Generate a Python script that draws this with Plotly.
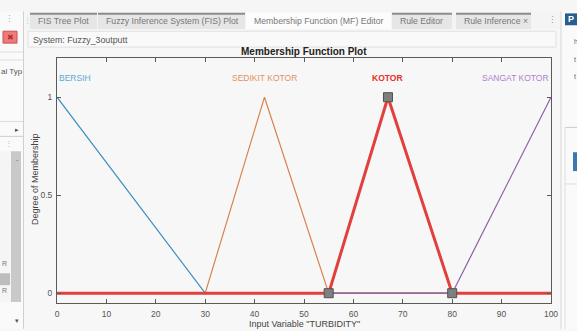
import plotly.graph_objects as go

# ---------------- data ----------------
x_ticks = [0, 10, 20, 30, 40, 50, 60, 70, 80, 90, 100]
y_ticks = [0, 0.5, 1]
y_tick_text = ["0", "0.5", "1"]

mf_names = ["BERSIH", "SEDIKIT KOTOR", "KOTOR", "SANGAT KOTOR"]
bersih_x = [0, 30, 100]
bersih_y = [1, 0, 0]
sedikit_x = [0, 30, 42, 55, 100]
sedikit_y = [0, 0, 1, 0, 0]
kotor_x = [0, 55, 67, 80, 100]
kotor_y = [0, 0, 1, 0, 0]
sangat_x = [0, 80, 100]
sangat_y = [0, 0, 1]
kotor_vertex_x = [55, 67, 80]
kotor_vertex_y = [0, 1, 0]
label_x = [0, 42, 67, 100]
label_anchor = ["left", "center", "center", "right"]

tab_names = ["FIS Tree Plot", "Fuzzy Inference System (FIS) Plot",
             "Membership Function (MF) Editor", "Rule Editor", "Rule Inference \u00d7"]

# ---------------- layout geometry ----------------
W, H = 577, 331
L, R, T, B = 57, 551, 58, 305


def xp(px):
    return (px - L) / (R - L)


def yp(py):
    return (B - py) / (B - T)


FONT = "Liberation Sans, Arial, sans-serif"

line_colors = ["#3f8fc2", "#d9834c", "#e2403c", "#8e5ea6"]
label_colors = ["#5aa9d8", "#e0925e", "#e2302c", "#b07fcb"]

fig = go.Figure()

series = [(bersih_x, bersih_y, 0), (sedikit_x, sedikit_y, 1),
          (sangat_x, sangat_y, 3), (kotor_x, kotor_y, 2)]
for xs, ys, i in series:
    fig.add_trace(go.Scatter(
        x=xs, y=ys, mode="lines", name=mf_names[i],
        line=dict(color=line_colors[i], width=3 if i == 2 else 1.2),
        hoverinfo="skip", showlegend=False))

fig.add_trace(go.Scatter(
    x=kotor_vertex_x, y=kotor_vertex_y, mode="markers",
    marker=dict(symbol="square", size=9, color="#7f7f7f",
                line=dict(color="#505050", width=1)),
    showlegend=False, hoverinfo="skip"))

annotations = []
for i, name in enumerate(mf_names):
    annotations.append(dict(
        x=label_x[i], y=1.1, xref="x", yref="y", text=("<b>%s</b>" % name) if i == 2 else name,
        showarrow=False, xanchor=label_anchor[i], yanchor="middle",
        font=dict(family=FONT, size=8.5, color=label_colors[i])))

annotations.append(dict(x=0.5, y=yp(51), xref="paper", yref="paper",
                        text="<b>Membership Function Plot</b>", showarrow=False,
                        xanchor="center", yanchor="middle",
                        font=dict(family=FONT, size=10, color="#222222")))
annotations.append(dict(x=0.5, y=yp(326), xref="paper", yref="paper",
                        text='Input Variable "TURBIDITY"', showarrow=False,
                        xanchor="center", yanchor="middle",
                        font=dict(family=FONT, size=9, color="#444444")))
annotations.append(dict(x=xp(35), y=yp(180), xref="paper", yref="paper",
                        text="Degree of Membership", showarrow=False, textangle=-90,
                        xanchor="center", yanchor="middle",
                        font=dict(family=FONT, size=9, color="#444444")))

shapes = []


def rect(x0, y0, x1, y1, fill, line=None, lw=0, layer="below"):
    shapes.append(dict(type="rect", xref="paper", yref="paper",
                       x0=xp(x0), x1=xp(x1), y0=yp(y1), y1=yp(y0),
                       fillcolor=fill, line=dict(color=line or fill, width=lw), layer=layer))


def hline(x0, x1, y, color, lw=1):
    shapes.append(dict(type="line", xref="paper", yref="paper",
                       x0=xp(x0), x1=xp(x1), y0=yp(y), y1=yp(y),
                       line=dict(color=color, width=lw), layer="below"))


def vline(x, y0, y1, color, lw=1):
    shapes.append(dict(type="line", xref="paper", yref="paper",
                       x0=xp(x), x1=xp(x), y0=yp(y0), y1=yp(y1),
                       line=dict(color=color, width=lw), layer="below"))


def text(x, y, s, size=8, color="#555555", anchor="left", bold=False):
    annotations.append(dict(x=xp(x), y=yp(y), xref="paper", yref="paper",
                            text=("<b>%s</b>" % s) if bold else s, showarrow=False,
                            xanchor=anchor, yanchor="middle",
                            font=dict(family=FONT, size=size, color=color)))


# top faded strip
rect(0, 0, 577, 11, "#f6f6f6")
# tab bar
rect(26, 11, 560, 29, "#f4f4f4")
tabs = [(30, 97), (98, 245), (246, 391), (392, 452), (456, 531)]
for k, (a, b) in enumerate(tabs):
    if k == 2:
        rect(a, 12, b, 29, "#fcfcfc")
    else:
        rect(a, 13, b, 29, "#e6e6e6")
        rect(a, 12.5, b, 14.5, "#8c8c8c")
    text(a + 6, 21, tab_names[k], size=8.7, color="#777777")
text(552, 20, "\u22ee", size=9, color="#999999", anchor="center")
text(27, 20, "\u22ee", size=7, color="#bbbbbb", anchor="center")

# main panel
rect(25, 29, 560, 331, "#f7f7f7")
rect(28, 31, 556, 47, "#f9f9f9", "#e0e0e0", 1)
text(31, 39.5, "System: Fuzzy_3outputt", size=8.8, color="#555555")

# left panel
rect(0, 11, 23, 331, "#fafafa")
vline(23.5, 11, 331, "#d0d0d0", 1)
text(9, 19, "\u22ee", size=9, color="#aaaaaa", anchor="center")
rect(3, 31, 17, 43, "#ef7a7a", "#cc5050", 1)
text(10, 37, "\u2716", size=8, color="#b03030", anchor="center")
hline(0, 23, 52, "#dddddd")
text(-1, 72, "al Typ", size=8, color="#555555")
hline(0, 23, 60, "#dddddd")
hline(0, 23, 122, "#dddddd")
text(17, 130, "\u25b8", size=7, color="#555555", anchor="center")
hline(0, 23, 137, "#cccccc")
text(9, 144, "\u22ee", size=8, color="#bbbbbb", anchor="center")
rect(11, 152, 21, 304, "#c9c9c9")
rect(0, 152, 11, 304, "#f5f5f5")
text(17, 160, "-", size=7, color="#666666", anchor="center")
text(4, 265, "R", size=7, color="#777777", anchor="center")
rect(0, 275, 10, 287, "#bdbdbd")
text(4, 292, "R", size=7, color="#777777", anchor="center")
text(17, 323, "\u25be", size=7, color="#555555", anchor="center")

# right panel
rect(561, 11, 577, 331, "#fafafa")
vline(561, 11, 331, "#d6d6d6", 1)
rect(565, 13, 577, 25, "#2a5d8f")
text(566, 19, "P", size=9, color="#ffffff", bold=True)
text(572, 41, "h", size=7, color="#666666")
text(572, 60, "t", size=7, color="#666666")
text(572, 77, "t", size=7, color="#666666")
hline(565, 577, 128, "#cccccc")
rect(573, 153, 577, 172, "#3b78b0")
hline(565, 577, 185, "#dddddd")
vline(565, 128, 331, "#dddddd")

axis_common = dict(showline=True, linecolor="#5a5a5a", linewidth=1, mirror="ticks",
                   ticks="inside", ticklen=4, tickcolor="#5a5a5a", showgrid=False,
                   zeroline=False, tickfont=dict(family=FONT, size=8.5, color="#555555"))

fig.update_layout(
    width=W, height=H,
    margin=dict(l=L, r=W - R, t=T, b=H - B, pad=0),
    paper_bgcolor="#f7f7f7", plot_bgcolor="#ffffff",
    xaxis=dict(range=[0, 100], tickvals=x_ticks, ticktext=[str(v) for v in x_ticks],
               ticklabelstandoff=3, **axis_common),
    yaxis=dict(range=[-0.05, 1.2], tickvals=y_ticks, ticktext=y_tick_text,
               ticklabelstandoff=2, **axis_common),
    annotations=annotations, shapes=shapes, showlegend=False,
)

fig.write_html("out.html", config={"displayModeBar": False},
               post_script="document.body.style.margin='0';document.body.style.overflow='hidden';")
